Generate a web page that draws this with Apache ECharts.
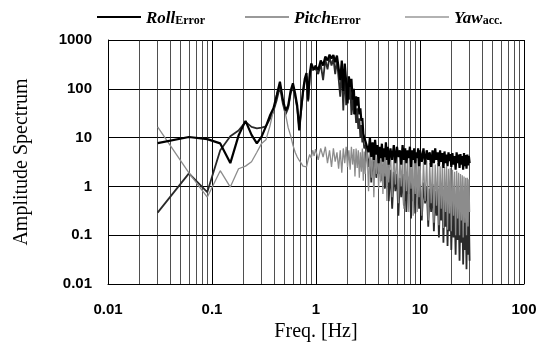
<!DOCTYPE html>
<html>
<head>
<meta charset="utf-8">
<script src="https://cdn.jsdelivr.net/npm/echarts@6.0.0/dist/echarts.min.js"></script>
<style>
html,body{margin:0;padding:0;background:#fff;}
#chart{width:541px;height:347px;}
</style>
</head>
<body>
<div id="chart"></div>
<script>
// Frequency grid [Hz]
const freq = [
  0.03,0.06,0.09,0.12,0.15,0.18,0.21,0.24,0.27,0.30,
  0.33,0.36,0.39,0.42,0.45,0.48,0.51,0.54,0.57,0.60,
  0.63,0.66,0.69,0.72,0.75,0.78,0.81,0.84,0.87,0.90,
  0.93,0.96,0.99,
  1.05,1.11,1.17,1.23,1.29,1.35,1.41,1.47,1.53,1.59,
  1.65,1.71,1.77,1.83,1.89,1.95,2.01,2.07,2.13,2.19,
  2.25,2.31,2.37,2.43,2.49,2.55,2.61,2.67,2.73,2.79,
  2.85,2.91,2.97,
  3.1,3.2,3.3,3.4,3.5,3.6,3.7,3.8,3.9,4.0,
  4.1,4.2,4.3,4.4,4.5,4.6,4.7,4.8,4.9,5.0,
  5.2,5.4,5.6,5.8,6.0,6.2,6.4,6.6,6.8,7.0,
  7.2,7.4,7.6,7.8,8.0,8.2,8.4,8.6,8.8,9.0,
  9.2,9.4,9.6,9.8,10.0,
  10.4,10.8,11.2,11.6,12.0,12.4,12.8,13.2,13.6,14.0,
  14.4,14.8,15.2,15.6,16.0,16.4,16.8,17.2,17.6,18.0,
  18.4,18.8,19.2,19.6,20.0,
  20.5,21.0,21.5,22.0,22.5,23.0,23.5,24.0,24.5,25.0,
  25.5,26.0,26.5,27.0,27.5,28.0,28.5,29.0,29.5,30.0
];

// Roll error amplitude
const rollValues = [
  7.7,10.3,9.3,7.6,3.0,11,22,11.4,7.6,10.5,
  17,28,40,75,140,60,36,45,90,130,
  80,45,14,40,90,160,210,60,200,330,
  280,250,300,
  240,380,300,460,380,500,420,490,350,480,
  500,150,380,90,330,140,50,180,110,160,
  60,100,30,70,45,68,30,40,22,25,
  12,10,8.8,
  9,5,10,4,8,3.5,9,4.5,7,3,
  6.5,3.8,7.5,3.2,6,4,8,3.5,6.5,2.8,
  6,3.5,7,3,6.5,4,5.5,2.8,7,3.5,
  6,3,5.5,3.8,6.5,2.5,5.5,3.5,6,3,
  5,3.8,6,2.6,5.5,
  3.2,6,2.8,5.5,3.5,5,2.5,5.5,3,6,
  3.5,5,2.6,5.5,3.2,4.8,2.4,5.2,3,4.5,
  2.6,5,3.3,4.6,2.5,
  4.8,2.8,4.2,2.2,5,3,4.5,2.4,4.6,2.8,
  4.2,2.2,4.8,2.6,4.4,2.3,4.5,2.7,4.2,3
];

// Pitch error amplitude
const pitchValues = [
  0.29,1.85,0.76,5.5,10.7,14,21,16.6,15.4,16,
  17,24,35,60,110,50,30,40,80,110,
  70,40,16,35,80,140,180,55,170,290,
  240,220,260,
  200,320,150,400,250,450,300,420,200,400,
  380,69,300,36,250,46,120,60,130,29,
  80,30,50,20,40,15,25,10,18,8,
  10,6,7,
  5,2.5,4,1.2,3.5,2,4,1.5,3,1.8,
  3.5,1.3,2.8,1.6,3,0.9,2.5,1.2,2.6,0.5,
  2.2,0.35,2,0.8,1.8,0.25,1.5,0.6,1.8,0.4,
  1.4,0.3,1.6,0.7,1.2,0.22,1.5,0.5,1.3,0.28,
  1.2,0.6,1.4,0.35,1.1,
  0.2,1.2,0.45,1,0.15,0.9,0.3,1.1,0.12,0.8,
  0.25,0.9,0.09,0.7,0.2,0.8,0.07,0.6,0.15,0.7,
  0.06,0.55,0.12,0.6,0.05,
  0.5,0.09,0.45,0.04,0.5,0.08,0.4,0.03,0.45,0.07,
  0.35,0.025,0.4,0.05,0.3,0.02,0.35,0.04,0.3,0.03
];

// Yaw acceleration amplitude
const yawValues = [
  16.6,1.9,0.6,2.1,0.97,2.3,2.6,3.2,5.0,7.6,
  9,17,36,80,130,60,30,16,11,7,
  5,4,3.4,3,2.6,2.4,2.5,3.5,4.5,3.8,
  5.5,4.2,5.8,
  3.5,6,4,6.5,3,5.5,2.5,6,3.2,5,
  2.3,5.5,1.9,6,3,6.5,2.5,5.5,2.2,6.5,
  2.8,5.8,1.6,6,2.4,5.5,1.5,5,2,6,
  1.3,5.2,1.8,
  6,0.8,5.5,1.5,6.5,0.6,5,1.8,6,0.9,
  5.5,1.2,6,0.7,5,1.6,5.5,0.5,4.8,1.2,
  5,0.6,4.5,1.1,5,0.45,4.2,1,4.6,0.35,
  4,0.8,4.4,0.3,4,0.9,3.8,0.25,4.2,0.7,
  3.6,0.3,3.8,0.6,3.4,
  0.25,3.2,0.5,3.4,0.2,3,0.45,3.2,0.18,2.8,
  0.4,3,0.16,2.6,0.35,2.8,0.14,2.5,0.3,2.6,
  0.13,2.3,0.28,2.4,0.12,
  2.2,0.25,2,0.1,2.1,0.22,1.9,0.1,1.8,0.2,
  1.7,0.09,1.6,0.18,1.5,0.1,1.5,0.15,1.4,0.3
];

// Minor vertical grid positions (log axis 2..9 per decade)
const minorGrid = [
  0.02,0.03,0.04,0.05,0.06,0.07,0.08,0.09,
  0.2,0.3,0.4,0.5,0.6,0.7,0.8,0.9,
  2,3,4,5,6,7,8,9,
  20,30,40,50,60,70,80,90
];

const legendLabels = {
  Roll: ['Roll', 'Error'],
  Pitch: ['Pitch', 'Error'],
  Yaw: ['Yaw', 'acc.']
};

const serif = '"Liberation Serif", "DejaVu Serif", serif';
const sans = '"Liberation Sans", Arial, sans-serif';

function pairs(vals) { return freq.map((f, i) => [f, vals[i]]); }
function fmt(v) { return String(+(+v).toPrecision(3)); }

const rich = {
  a: { fontFamily: serif, fontStyle: 'italic', fontWeight: 'bold', fontSize: 17, color: '#000', verticalAlign: 'bottom', lineHeight: 20 },
  b: { fontFamily: serif, fontWeight: 'bold', fontSize: 12, color: '#000', verticalAlign: 'bottom', lineHeight: 20, padding: [6, 0, 0, 0] }
};
function legendFmt(name) { const p = legendLabels[name]; return '{a|' + p[0] + '}{b|' + p[1] + '}'; }
function mkLegend(name, left, color, h) {
  return {
    data: [{ name: name, icon: 'rect', itemStyle: { color: color, borderWidth: 0 } }],
    left: left, top: 4, itemWidth: 44, itemHeight: h, itemGap: 6,
    formatter: legendFmt, textStyle: { rich: rich, padding: [0, 0, 0, 0] },
    selectedMode: false
  };
}

const chart = echarts.init(document.getElementById('chart'), null, { renderer: 'canvas' });
chart.setOption({
  animation: false,
  backgroundColor: '#fff',
  legend: [
    mkLegend('Roll', 92, '#000', 2),
    mkLegend('Pitch', 240, '#777', 1.5),
    mkLegend('Yaw', 400, '#999', 1.5)
  ],
  grid: { left: 108, right: 17, top: 40, bottom: 63, containLabel: false },
  xAxis: {
    type: 'log', logBase: 10, min: 0.01, max: 100,
    name: 'Freq. [Hz]', nameLocation: 'middle', nameGap: 37,
    nameTextStyle: { fontFamily: serif, fontSize: 20, color: '#000' },
    axisLine: { show: true, lineStyle: { color: '#000', width: 1 } },
    axisTick: { show: false },
    axisLabel: { formatter: fmt, fontFamily: sans, fontWeight: 'bold', fontSize: 15, color: '#000', margin: 18 },
    splitLine: { show: true, lineStyle: { color: '#000', width: 1 } },
    minorTick: { show: false }, minorSplitLine: { show: false }
  },
  yAxis: {
    type: 'log', logBase: 10, min: 0.01, max: 1000,
    name: 'Amplitude Spectrum', nameLocation: 'middle', nameGap: 76,
    nameTextStyle: { fontFamily: serif, fontSize: 20, color: '#000' },
    axisLine: { show: true, lineStyle: { color: '#000', width: 1 } },
    axisTick: { show: false },
    axisLabel: { formatter: fmt, fontFamily: sans, fontWeight: 'bold', fontSize: 15, color: '#000', margin: 16 },
    splitLine: { show: true, lineStyle: { color: '#000', width: 1 } }
  },
  series: [
    {
      name: 'Pitch', type: 'line', data: pairs(pitchValues), symbol: 'none', z: 3,
      lineStyle: { color: '#2a2a2a', width: 1.8 },
      markLine: {
        silent: true, symbol: ['none', 'none'], label: { show: false }, z: 1,
        lineStyle: { color: '#222', width: 0.8, type: 'solid' },
        emphasis: { disabled: true },
        data: minorGrid.map(v => ({ xAxis: v }))
      }
    },
    {
      name: 'Yaw', type: 'line', data: pairs(yawValues), symbol: 'none', z: 4,
      lineStyle: { color: '#8c8c8c', width: 1.3 }
    },
    {
      name: 'Roll', type: 'line', data: pairs(rollValues), symbol: 'none', z: 5,
      lineStyle: { color: '#000', width: 2.2 }
    }
  ]
});
</script>
</body>
</html>
